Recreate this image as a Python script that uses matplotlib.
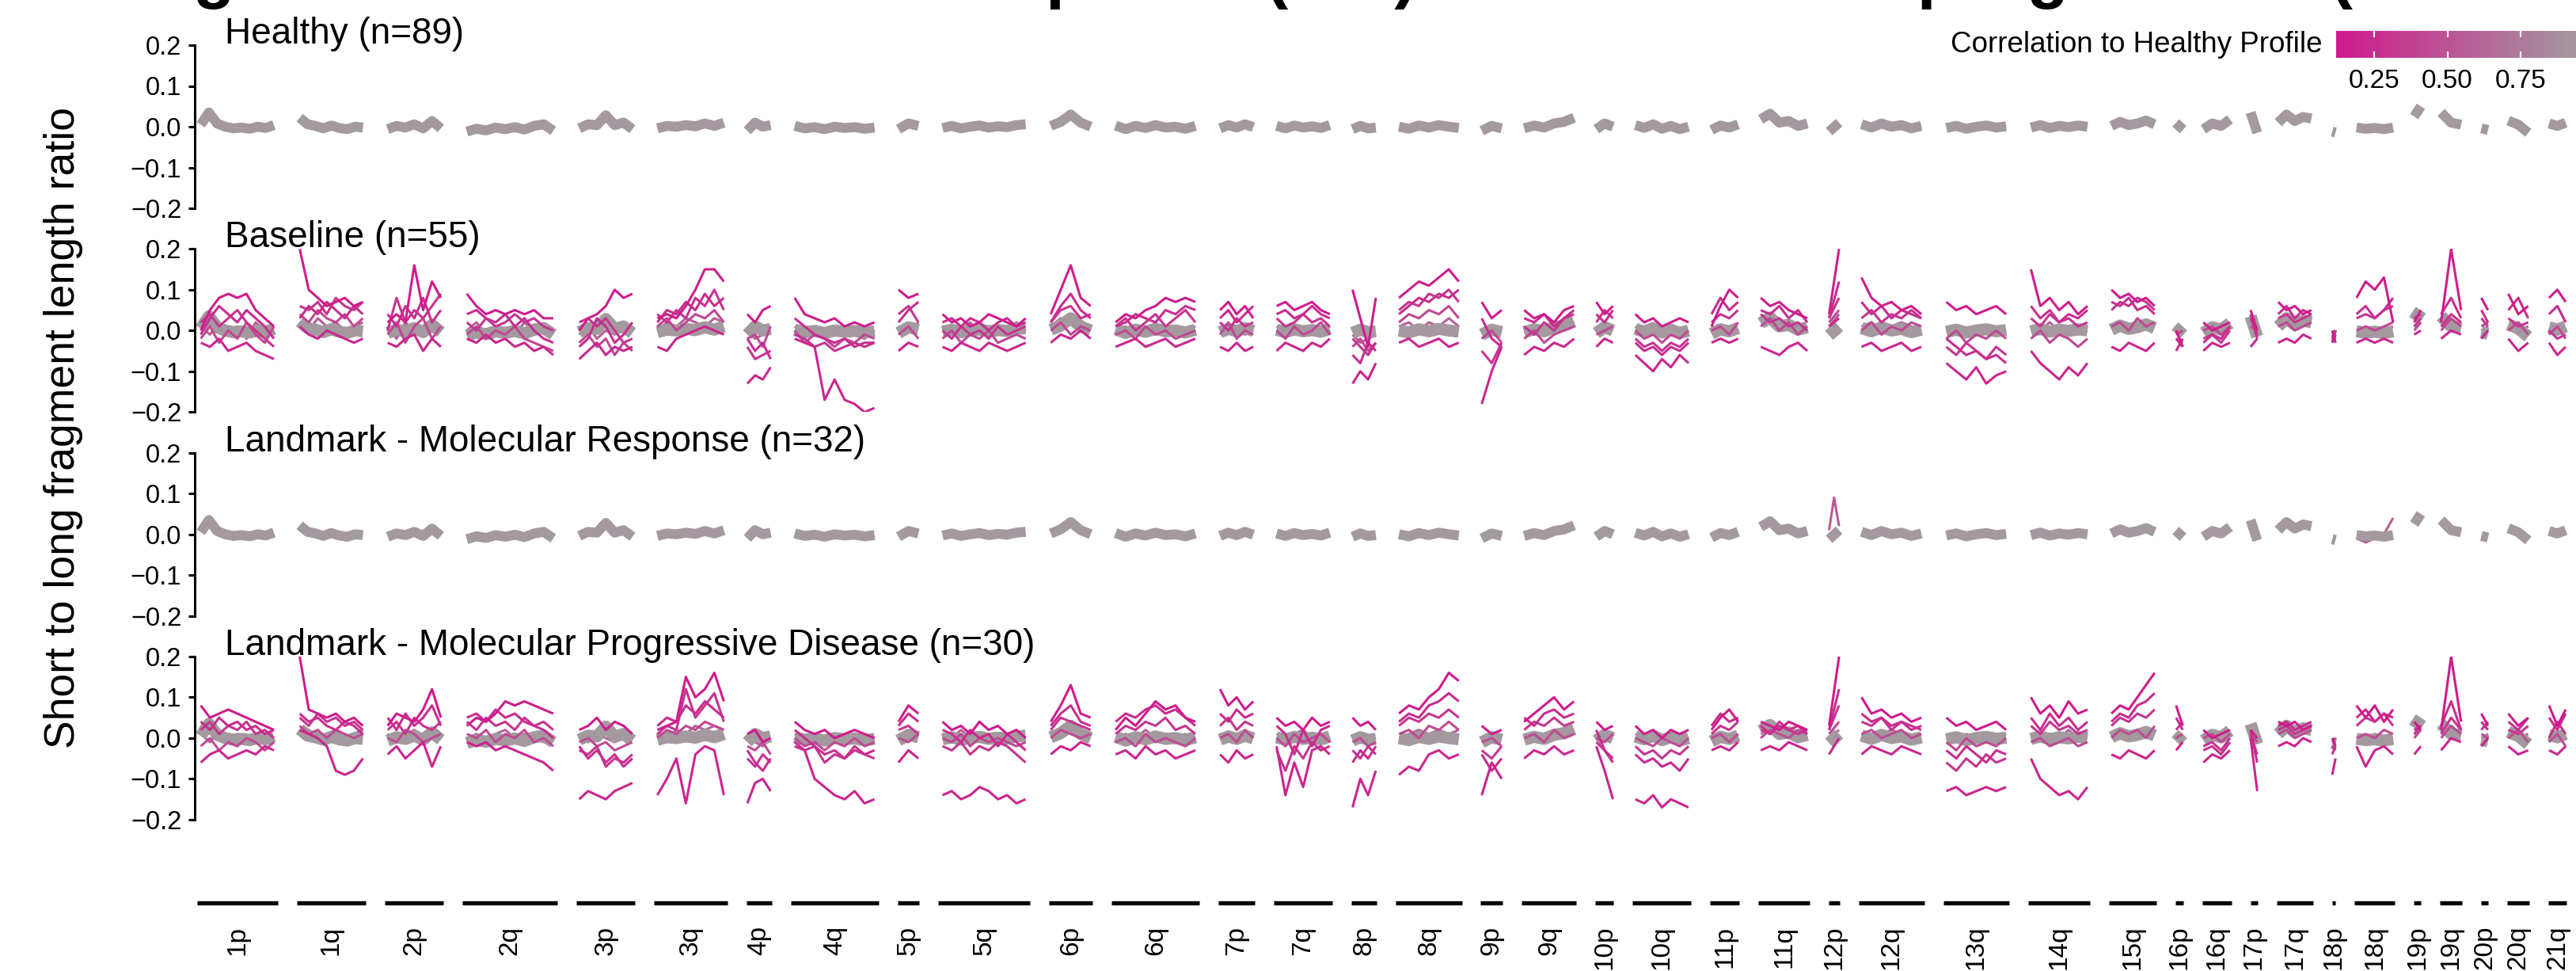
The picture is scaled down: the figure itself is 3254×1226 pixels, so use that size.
import numpy as np
import matplotlib
matplotlib.use("Agg")
import matplotlib.pyplot as plt
from matplotlib.colors import LinearSegmentedColormap, Normalize
from matplotlib.cm import ScalarMappable

plt.rcParams['font.family'] = ['Liberation Sans', 'DejaVu Sans']

# chromosome arms and number of 5Mb bins in each (sets facet widths)
arms = ["1p", "1q", "2p", "2q", "3p", "3q", "4p", "4q", "5p", "5q", "6p", "6q",
        "7p", "7q", "8p", "8q", "9p", "9q", "10p", "10q", "11p", "11q", "12p", "12q",
        "13q", "14q", "15q", "16p", "16q", "17p", "17q", "18p", "18q", "19p", "19q",
        "20p", "20q", "21q"]
arm_bins = [23, 20, 17, 27, 17, 21, 8, 25, 7, 26, 13, 25, 11, 17, 8, 19, 7, 16, 6, 17,
            9, 15, 4, 19, 19, 18, 14, 3, 9, 3, 11, 2, 12, 3, 7, 3, 7, 6]

panel_titles = ["Healthy (n=89)", "Baseline (n=55)",
                "Landmark - Molecular Response (n=32)",
                "Landmark - Molecular Progressive Disease (n=30)"]
y_ticks = [-0.2, -0.1, 0.0, 0.1, 0.2]
y_tick_labels = ["\u22120.2", "\u22120.1", "0.0", "0.1", "0.2"]
cbar_ticks = [0.25, 0.50, 0.75]
cbar_tick_labels = ["0.25", "0.50", "0.75"]

# median healthy-like profile per arm (x1000)
healthy_profile = [
    [5, 35, 8, 0, -4, -2, -5, 0, -3, 4], [22, 6, 2, -4, 3, -3, -6, 0, -2],
    [-6, 2, -2, 6, -4, 14, -4], [-12, -5, -9, -2, -6, -1, -7, 2, 6, -10],
    [-4, 6, 4, 28, 4, 10, -6], [-4, 2, 0, 4, 1, 8, 2, 10], [-10, 10, 0, 4],
    [2, -4, -1, -6, 0, -3, -1, -5, -2], [-6, 8, 2], [-3, 2, -4, 0, 3, -2, 1, -1, 4, 6],
    [2, 12, 30, 10, 0], [3, -6, 2, -3, 4, -2, 0, -5, 2], [-4, 4, -2, 6, -1],
    [2, -4, 3, -2, 1, -3, 4], [-6, 2, -4, -2], [0, -5, 3, -2, 4, 0, -3], [-10, 2, -4],
    [-4, 3, -2, 8, 12, 22], [-6, 8, 0], [4, -3, 6, -5, 2, -6, 0], [-8, 3, -2, 6],
    [18, 32, 10, 14, 2, 8], [-12, 10], [6, -2, 8, 0, 4, -4, 2], [-3, 2, -5, 0, 3, -2, 1],
    [-2, 4, -3, 2, -1, 3, 0], [2, 12, 4, 8, 15, 6], [-8, 10], [-6, 8, 2, 18], [35, -15],
    [10, 30, 14, 24, 20], [-12, -14], [-2, -5, -3, -6, -2], [25, 50], [35, 10, 5],
    [-4, -8], [15, 5, -15], [8, 2, 10]]

# baseline samples (x100), one list per arm
bl_corr = [0.14, 0.20, 0.25, 0.30, 0.42, 0.58]
bl_1 = [[0, 5, 8, 9, 8, 9, 5, 3, 1], [20, 10, 8, 6, 7, 8, 6, 7], [2, 4, 2, 16, 5, 12, 8],
        [9, 6, 4, 5, 4, 5, 4, 5, 3, 3], [0, 3, 4, 6, 10, 8, 9], [3, 4, 3, 6, 10, 15, 15, 12],
        [4, 2, 5, 6], [8, 4, 3, 2, 3, 1, 2, 1, 2], [10, 8, 9], [4, 2, 3, 1, 2, 4, 3, 2, 1, 3],
        [4, 10, 16, 8, 6], [2, 4, 3, 5, 6, 8, 7, 8, 7], [5, 7, 4, 6, 3], [6, 7, 5, 6, 7, 5, 4],
        [10, 3, -4, 8], [8, 10, 12, 11, 13, 15, 12], [7, 3, 5], [5, 3, 4, 2, 5, 6], [7, 4, 6],
        [4, 2, 3, 1, 2, 3, 2], [1, 6, 10, 8], [8, 6, 7, 5, 4, 3], [4, 20],
        [13, 8, 6, 7, 5, 6, 4], [7, 5, 6, 4, 5, 6, 4], [15, 6, 8, 5, 7, 4, 6],
        [10, 8, 9, 7, 8, 6], [0, -4], [2, 0, 1, 2], [5, 0], [7, 5, 6, 4, 5], [0, -3],
        [8, 12, 10, 13, 2], [2, 5], [2, 20, 5], [8, 5], [9, 4, 6], [8, 10, 7]]
bl_2 = [[-3, -4, -2, -5, -4, -3, -5, -6, -7], [1, -1, -2, 0, -1, -2, -3, -2],
        [-3, -4, -2, -1, -5, -2, -4], [-2, -3, -1, -3, -2, -4, -3, -5, -4, -6],
        [-7, -5, -3, -6, -4, -5, -4], [-4, -5, -2, -1, 0, 1, 0, -1], [-13, -11, -12, -9],
        [-2, -3, -4, -17, -12, -17, -18, -20, -19], [-5, -3, -4],
        [-4, -5, -3, -4, -5, -3, -4, -5, -4, -3], [-3, -1, -2, 0, -2],
        [-4, -3, -2, -4, -3, -2, -4, -3, -2], [-4, -5, -3, -5, -4], [-5, -3, -4, -5, -3, -4, -2],
        [-13, -10, -12, -8], [-3, -2, -4, -3, -2, -4, -3], [-18, -10, -4], [-6, -4, -5, -3, -4, -2],
        [-4, -2, -3], [-6, -8, -10, -7, -9, -6, -8], [-3, -2, -3, -2], [-4, -5, -6, -4, -3, -5],
        [1, 3], [-4, -3, -5, -4, -3, -5, -4], [-8, -10, -12, -9, -13, -11, -10],
        [-5, -8, -10, -12, -9, -11, -8], [-4, -5, -3, -4, -5, -3], [-5, -2], [-5, -3, -4, -3],
        [-4, -2], [-3, -2, -3, -1, -2], [-3, -1], [-3, -2, -3, -2, -3], [-1, 0], [-2, 0, -1],
        [-2, 0], [-2, -5, -3], [-3, -6, -4]]
bl_6 = [[-1, 3, 6, 4, 2, 5, 3, 1, -2], [3, 6, 4, 7, 5, 3, 6, 4], [4, 1, 6, 3, 8, 2, 5],
        [4, 5, 3, 2, 4, 1, 3, 0, -2, -3], [-4, -2, 3, 1, -3, -1, 2], [2, 5, 4, 7, 5, 9, 6, 8],
        [-2, -5, -3, -7], [3, 1, -1, -2, -3, -2, -4, -3, -3], [2, 5, 7],
        [2, 3, 1, 3, 2, 0, 2, 3, 1, 2], [2, 6, 9, 5, 3], [1, 2, 4, 3, 2, 5, 4, 6, 5],
        [3, 5, 2, 4, 6], [4, 5, 3, 4, 6, 4, 3], [-6, -8, -3, -5], [4, 6, 8, 7, 9, 8, 10],
        [3, -2, -4], [3, 2, 4, 1, 3, 5], [4, 2, 5], [-3, -5, -4, -6, -4, -5, -3], [4, 8, 5, 7],
        [5, 4, 6, 3, 5, 2], [3, 12], [7, 4, 6, 3, 5, 4, 3], [-2, -4, -6, -5, -7, -6, -8],
        [6, 3, 5, 2, 4, 3, 5], [7, 6, 8, 5, 6, 4], [-2, -4], [-3, -1, -2, 1], [4, -2],
        [4, 6, 3, 5, 4], [-2, 0], [4, 6, 3, 5, 8], [3, 4], [4, 8, 3], [5, 2], [5, 8, 3],
        [4, 6, 2]]
bl_3 = [[2, 4, 1, 3, 5, 2, 0, -2, -4], [6, 5, 7, 4, 8, 6, 5, 7], [0, 8, 2, 5, 3, 6, 9],
        [2, 0, 3, 1, 2, 4, 2, 3, 1, 0], [2, 3, 1, 3, 0, -3, -2], [4, 2, 5, 3, 8, 6, 10, 5],
        [-4, -7, -6, -5], [-1, -2, -4, -3, -5, -4, -3, -4, -3], [4, 6, 2],
        [0, -2, 1, -1, 0, -2, 1, -1, 0, 1], [2, 5, 6, 3, 4], [1, 3, 0, 2, 4, 1, 3, 5, 2],
        [2, 0, 3, 1, 2], [3, 1, 2, 4, 2, 3, 1], [-2, -4, -6, -3], [5, 7, 6, 9, 8, 10, 7],
        [-5, -8, -3], [1, -1, 2, 0, 3, 4], [2, 5, 3], [-2, -4, -3, -5, -3, -4, -2], [2, 4, 3, 5],
        [4, 2, 3, 1, 2, 0], [3, 8], [3, 5, 2, 4, 3, 5, 3], [-4, -6, -3, -5, -7, -4, -6],
        [3, 1, 4, 2, 3, 1, 2], [5, 7, 6, 8, 7, 5], [-2, -3], [-2, -1, -3, 0], [3, -1],
        [3, 4, 2, 3, 4], [-1, -2], [3, 4, 3, 5, 6], [1, 3], [1, 4, 2], [3, 1], [3, 1, 2],
        [0, -2, -1]]
bl_4 = [[-2, 1, -3, 0, -2, 2, -1, -3, 1], [4, 2, 5, 3, 2, 4, 1, 3], [-1, 2, -3, 1, 3, -2, 1],
        [-1, 1, -2, 0, -1, 1, -2, -3, -4, -5], [-3, -1, -4, -2, -6, -3, -5], [1, 3, 0, 2, 4, 3, 5, 2],
        [-2, -1, -4, 1], [0, -3, -1, -2, -4, -2, -3, -1, -2], [-1, 1, -2],
        [-2, 0, -3, -1, -2, 0, -3, -2, -1, -2], [0, 2, -1, 1, 0], [-1, 0, -2, 1, -1, 0, -2, -1, 0],
        [-1, 2, -2, 0, -1], [0, -2, 1, -1, 0, 2, -1], [-4, -2, -5, -3], [2, 4, 3, 5, 4, 6, 3],
        [-2, 0, -3], [-2, 0, -3, -1, 0, 1], [-1, 0, 1], [0, -2, -1, -3, -1, -2, 0], [0, 1, -1, 2],
        [1, 3, 0, 2, -1, 1], [2, 5], [0, 2, -1, 1, 0, 2, 1], [-2, 0, -3, -1, -2, 0, -2],
        [-2, 0, -3, -1, -2, -4, -2], [1, 2, 0, 3, 1, 2], [-1, 0], [0, 1, -1, 1], [1, 0],
        [1, 2, 0, 1, 2], [-2, 0], [0, 1, 0, 1, 2], [0, 2], [0, 3, 1], [1, 2], [0, 2, -1],
        [-1, 1, -2]]
bl_5 = [[1, -1, 2, 0, 1, -2, 2, 0, -1], [2, 0, 3, 1, 2, 0, 1, 2], [1, -2, 2, 0, -1, 2, 0],
        [0, 2, -1, 1, 0, -1, 2, 0, 1, -1], [-1, 1, -2, 0, -1, 1, 0], [0, 2, 1, 3, 2, 1, 3, 2],
        [0, -2, -1, 0], [1, -1, 0, -2, -1, 0, -1, -2, 0], [1, 0, 2],
        [1, -1, 0, 2, -1, 1, 0, -1, 2, 0], [1, 3, 2, 2, 1], [0, 1, -1, 0, 2, -1, 1, 0, 1],
        [0, 1, 1, -1, 0], [1, 0, -1, 1, 0, -1, 1], [-1, -3, -2, -1], [1, 2, 0, 2, 1, 3, 1],
        [0, -1, 0], [0, 1, -1, 1, 2, 2], [0, 1, 0], [1, -1, 0, -1, 1, 0, -1], [1, 0, 1, 0],
        [2, 3, 1, 2, 0, 1], [1, 4], [1, 2, 0, 1, 2, 1, 0], [0, 1, -1, 0, 1, -1, 0],
        [1, 0, 2, 0, 1, -1, 0], [1, 2, 1, 2, 1, 2], [0, -1], [1, 0, 0, 1], [2, 0],
        [2, 3, 1, 2, 2], [-1, -1], [-1, 0, -1, 0, 1], [1, 2], [1, 2, 2], [0, 1], [1, 0, 1],
        [0, -1, 0]]

# landmark molecular response: one sample that leaves the healthy band (x100)
mr_corr = [0.55]
mr_1 = [[] for _ in range(22)] + [[1, 9, 2]] + [[] for _ in range(9)] + \
       [[-1, -2, -1, 0, 4]] + [[] for _ in range(5)]

# landmark molecular progressive disease samples (x100)
mpd_corr = [0.13, 0.19, 0.25, 0.30, 0.44, 0.60]
mpd_1 = [[8, 5, 6, 7, 6, 5, 4, 3, 2], [20, 7, 6, 5, 6, 4, 5, 3], [3, 6, 5, 4, 7, 12, 5],
         [3, 5, 4, 6, 9, 8, 9, 8, 7, 6], [2, 3, 5, 2, 4, 3, 1], [2, 3, 4, 15, 10, 12, 16, 9],
         [1, 2, -1, 0], [4, 2, 1, 2, 0, 1, 2, 1, 0], [4, 8, 6], [4, 2, 3, 1, 4, 2, 3, 1, 2, 0],
         [4, 8, 13, 6, 5], [2, 5, 3, 6, 9, 7, 8, 5, 4], [12, 8, 10, 7, 9], [5, 3, 4, 2, 5, 3, 4],
         [5, 3, 4, 2], [6, 8, 7, 10, 12, 16, 14], [3, 1, 2], [4, 6, 8, 10, 7, 9], [4, 2, 3],
         [3, 1, 2, 0, 2, 1, 2], [2, 5, 7, 4], [4, 3, 2, 4, 3, 2], [3, 20], [10, 6, 7, 5, 6, 4, 5],
         [5, 3, 4, 2, 3, 4, 2], [10, 6, 8, 5, 9, 6, 7], [6, 8, 7, 10, 13, 16], [8, 3], [2, 0, 1, 2],
         [2, 0], [4, 3, 4, 2, 3], [0, -2], [8, 5, 8, 4, 7], [4, 2], [2, 20, 4], [6, 3], [6, 3, 5],
         [8, 3, 7]]
mpd_2 = [[-6, -4, -3, -5, -4, -3, -4, -2, -3], [2, 1, 0, -2, -8, -9, -8, -5],
         [-4, -2, -5, -3, -1, -7, -2], [-1, -2, -1, -3, -2, -3, -4, -5, -6, -8],
         [-15, -13, -14, -15, -13, -12, -11], [-14, -10, -5, -16, -4, -2, -3, -14],
         [-16, -11, -10, -13], [-2, -3, -10, -12, -14, -15, -13, -16, -15], [-6, -3, -5],
         [-14, -13, -15, -14, -12, -13, -15, -14, -16, -15], [-4, -2, -3, -1, -2],
         [-4, -3, -5, -2, -4, -3, -5, -4, -3], [-4, -6, -3, -5, -4], [-2, -14, -6, -12, -3, -2, -4],
         [-17, -10, -14, -8], [-9, -7, -8, -4, -3, -5, -4], [-14, -6, -10], [-5, -3, -4, -2, -4, -3],
         [-2, -8, -15], [-15, -16, -14, -17, -15, -16, -17], [-3, -2, -3, -1],
         [-3, -2, -3, -1, -2, -3], [-4, 0], [-4, -2, -3, -4, -2, -3, -4],
         [-13, -12, -14, -13, -12, -13, -12], [-5, -10, -12, -14, -13, -15, -12],
         [-4, -5, -3, -4, -5, -3], [-3, -1], [-6, -4, -5, -3], [0, -13], [-2, -1, -2, 0, -1],
         [-9, -5], [-2, -7, -3, -2, -4], [-4, -2], [-3, 0, -1], [-2, 0], [-2, -4, -3], [-3, -4, -2]]
mpd_6 = [[4, 2, 5, 3, 4, 2, 3, 1, 2], [6, 4, 5, 3, 2, 4, 3, 1], [5, 2, 6, 3, 5, 8, 3],
         [5, 6, 4, 7, 5, 6, 4, 3, 2, 0], [-2, -5, -3, -6, -4, -7, -5], [3, 5, 4, 8, 6, 9, 7, 5],
         [-3, -6, -8, -5], [2, 0, -2, -4, -3, -5, -2, -4, -3], [3, 6, 4],
         [2, 1, -1, 2, 0, 1, -2, 1, -1, -3], [3, 6, 8, 4, 3], [4, 6, 5, 7, 8, 6, 7, 5, 3],
         [6, 4, 7, 5, 6], [3, 1, -4, 2, -2, 2, 3], [-6, -3, -5, -2], [4, 6, 5, 8, 9, 11, 9],
         [-4, -8, -5], [5, 3, 6, 7, 5, 6], [2, -3, -6], [-4, -6, -5, -7, -6, -8, -5], [3, 6, 4, 5],
         [3, 1, 4, 2, 3, 1], [2, 12], [6, 4, 5, 3, 4, 2, 3], [-3, -5, -2, -4, -6, -3, -4],
         [5, 2, 6, 3, 5, 2, 4], [4, 6, 5, 8, 9, 11], [5, 2], [-3, -2, -4, -1], [2, -6],
         [3, 4, 2, 3, 4], [-4, -2], [5, 7, 4, 6, 5], [2, 3], [3, 9, 2], [4, 2], [4, 2, 5],
         [5, 2, 6]]
mpd_3 = [[2, 4, 1, 3, 2, 4, 1, 2, 0], [5, 3, 6, 4, 5, 3, 4, 2], [2, 4, 1, 5, 3, 2, 4],
         [4, 2, 5, 3, 4, 2, 5, 3, 4, 2], [-3, -4, -2, -7, -5, -6, -4], [1, 3, 2, 12, 5, 8, 11, 4],
         [-5, -7, -4, -6], [-1, -3, -2, -6, -4, -5, -3, -4, -5], [2, 3, 1],
         [-2, -3, -1, -4, -2, -3, -1, -2, -4, -6], [2, 5, 4, 3, 2], [1, 3, 2, 4, 3, 5, 2, 3, 1],
         [3, 5, 2, 4, 3], [-3, -8, -2, -5, -1, -3, -2], [-3, -5, -2, -4], [3, 5, 4, 6, 5, 7, 5],
         [-3, -5, -2], [2, 4, 3, 5, 3, 4], [-1, -3, -5], [-2, -4, -3, -5, -3, -4, -2], [1, 3, 2, 4],
         [2, 1, 3, 2, 1, 2], [2, 8], [4, 3, 5, 2, 4, 3, 2], [-6, -8, -5, -7, -4, -6, -5],
         [3, 1, 4, 2, 3, 1, 2], [3, 5, 4, 6, 5, 7], [2, 4], [-2, -1, -3, 0], [1, -4], [2, 3, 1, 2, 3],
         [-2, -3], [3, 5, 4, 6, 3], [1, 3], [1, 5, 2], [2, 4], [2, 1, 3], [0, 4, 1]]
mpd_4 = [[-2, 0, -3, -1, -2, 0, -1, -3, -1], [3, 1, 2, 0, 2, 1, 0, 1], [0, -1, 2, 1, -1, 0, 1],
         [1, 0, 2, -1, 1, 0, 2, -1, 0, -2], [-1, 0, -2, -1, -3, -2, -1], [0, 2, 1, 3, 2, 4, 3, 2],
         [-2, -3, -1, -4], [0, -2, -1, -3, -1, -2, 0, -2, -1], [0, -1, 1],
         [0, -1, 1, -2, 0, -1, 0, -1, -2, -1], [0, 2, 1, 0, 1], [-1, 0, -2, 1, -1, 0, -1, -2, 0],
         [0, 1, -1, 2, 0], [0, -2, 1, -1, 0, 1, -1], [-1, 0, -2, -1], [1, 2, 0, 3, 2, 4, 2],
         [-1, 0, -2], [0, 1, -1, 2, 0, 1], [0, -1, 1], [0, -1, -2, 0, -1, -2, 0], [0, 1, -1, 1],
         [0, 2, 1, 0, 2, 1], [1, 4], [1, 2, 0, 1, 2, 0, 1], [-1, -3, 0, -2, -1, -2, 0],
         [-1, 0, -2, -1, 0, -2, -1], [0, 2, 1, 2, 0, 3], [0, 1], [0, 1, -1, 1], [1, -1],
         [1, 2, 0, 1, 2], [-1, 0], [0, 1, 0, 2, 1], [0, 2], [0, 3, 1], [1, 0], [0, 2, -1],
         [-1, 1, -2]]
mpd_5 = [[1, -1, 2, 0, 1, -1, 0, 1, -1], [1, 2, 0, 1, 2, 0, 1, 2], [1, 0, 1, 2, 0, 1, 0],
         [0, 1, 0, 1, 2, 0, 1, 0, -1, 0], [0, -1, 1, 0, -1, 0, 1], [1, 0, 2, 1, 3, 2, 3, 2],
         [0, -1, -2, 0], [1, 0, -1, 0, 1, -1, 0, 1, 0], [1, 0, 1],
         [1, 0, 2, 0, 1, 0, 1, 0, 1, 0], [1, 2, 2, 1, 0], [0, 1, 0, 2, 0, 1, 0, 1, 0],
         [1, 0, 1, 0, 1], [1, 0, 1, 2, 0, 1, 0], [0, 1, -1, 0], [0, 1, 2, 1, 2, 1, 2],
         [0, 1, 0], [1, 0, 1, 1, 0, 1], [1, 0, 0], [1, 0, 1, -1, 0, 1, 0], [1, 0, 1, 0],
         [1, 2, 0, 1, 1, 0], [0, 2], [1, 0, 1, 2, 1, 0, 1], [0, -1, 1, 0, -1, 0, 1],
         [1, 0, 1, 0, 2, 0, 1], [1, 2, 1, 2, 1, 2], [1, 0], [1, 0, 0, 1], [2, 0], [2, 3, 1, 2, 2],
         [-1, -1], [-1, 0, 1, 0, 0], [1, 2], [1, 2, 2], [0, 1], [1, 0, 1], [0, -1, 0]]

title = "Fragmentation: molecular response (MR) and molecular progression (ctDNA-based)"

# ---- layout (pixel positions of the original figure) ----
W, H = 3254, 1226
fig = plt.figure(figsize=(W / 100, H / 100), dpi=100)


def fx(px):
    return px / W


def fy(px):
    return 1 - px / H


cmap = LinearSegmentedColormap.from_list("corr", ["#CF1A8C", "#A0A0A0"])
norm = Normalize(0.12, 1.0)

spans = np.array([(n - 1) * 1.1 for n in arm_bins])
gap = 5.7
starts = np.concatenate([[0], np.cumsum(spans[:-1] + gap)])
total = starts[-1] + spans[-1]
x0_px, x1_px = 249, 3242
upx = total / (x1_px - x0_px)
ax_left, ax_right = 246, 3252
xlim = (-(x0_px - ax_left) * upx, total + (ax_right - x1_px) * upx)


def draw(ax, per_arm, scale, color, lw, z):
    for i, vals in enumerate(per_arm):
        if len(vals) == 0:
            continue
        n = arm_bins[i]
        xs = np.linspace(starts[i] + 0.05 * (n - 1), starts[i] + 1.05 * (n - 1), len(vals))
        ax.plot(xs, np.array(vals) / scale, color=color, lw=lw, zorder=z,
                solid_capstyle="butt", solid_joinstyle="round")


gray = cmap(norm(0.95))
panels = [
    ([], [], 9.0),
    ([bl_5, bl_4, bl_3, bl_6, bl_2, bl_1], bl_corr[::-1], 11.0),
    ([mr_1], mr_corr, 9.0),
    ([mpd_5, mpd_4, mpd_3, mpd_6, mpd_2, mpd_1], mpd_corr[::-1], 11.0),
]
top0, step, hgt = 57, 257.3, 206

for k, (lines, corrs, band_lw) in enumerate(panels):
    top = top0 + k * step
    ax = fig.add_axes([fx(ax_left), fy(top + hgt), fx(ax_right - ax_left), hgt / H])
    ax.set_xlim(*xlim)
    ax.set_ylim(-0.2, 0.2)
    for s in ["top", "right", "bottom"]:
        ax.spines[s].set_visible(False)
    ax.spines["left"].set_linewidth(2.2)
    ax.set_xticks([])
    ax.set_yticks(y_ticks, y_tick_labels)
    ax.tick_params(axis="y", length=6, width=2.2, pad=6, labelsize=23.5)
    ax.patch.set_alpha(0)
    draw(ax, healthy_profile, 1000.0, gray, band_lw, 2)
    for j, (ln, c) in enumerate(zip(lines, corrs)):
        z = 1 if c > 0.5 else 3 + j
        draw(ax, ln, 100.0, cmap(norm(c)), 2.2, z)
    fig.text(fx(284), fy(top - 2), panel_titles[k], fontsize=33, va="baseline", ha="left")

# arm bars and labels
axb = fig.add_axes([fx(ax_left), fy(1152), fx(ax_right - ax_left), 20 / H])
axb.set_xlim(*xlim)
axb.set_ylim(0, 1)
axb.hlines(np.full(len(arms), 0.6), starts, starts + spans, color="black", lw=3.8)
for s in axb.spines.values():
    s.set_visible(False)
axb.set_yticks([])
axb.set_xticks(starts + spans / 2, arms, rotation=90, fontsize=24)
axb.tick_params(axis="x", length=0, pad=12)
axb.patch.set_alpha(0)

fig.text(fx(80), fy(540), "Short to long fragment length ratio", rotation=90,
         fontsize=38.5, ha="center", va="center")

# colour bar (runs off the right edge, as in the cropped original)
cax = fig.add_axes([fx(2951), fy(73), fx(0.88 * 370), 34 / H])
cb = fig.colorbar(ScalarMappable(norm=norm, cmap=cmap), cax=cax, orientation="horizontal")
cb.outline.set_visible(False)
cb.set_ticks(cbar_ticks, labels=cbar_tick_labels)
cax.tick_params(axis="x", direction="in", colors="white", length=6, width=1.5,
                top=True, bottom=True, labelcolor="black", labelsize=24, pad=10)
fig.text(fx(2933), fy(56), "Correlation to Healthy Profile", fontsize=26.5,
         ha="right", va="center")

fig.text(fx(110), fy(-6), title, fontsize=62, fontweight="bold", va="baseline", ha="left")

fig.savefig("out.png", dpi=100)
